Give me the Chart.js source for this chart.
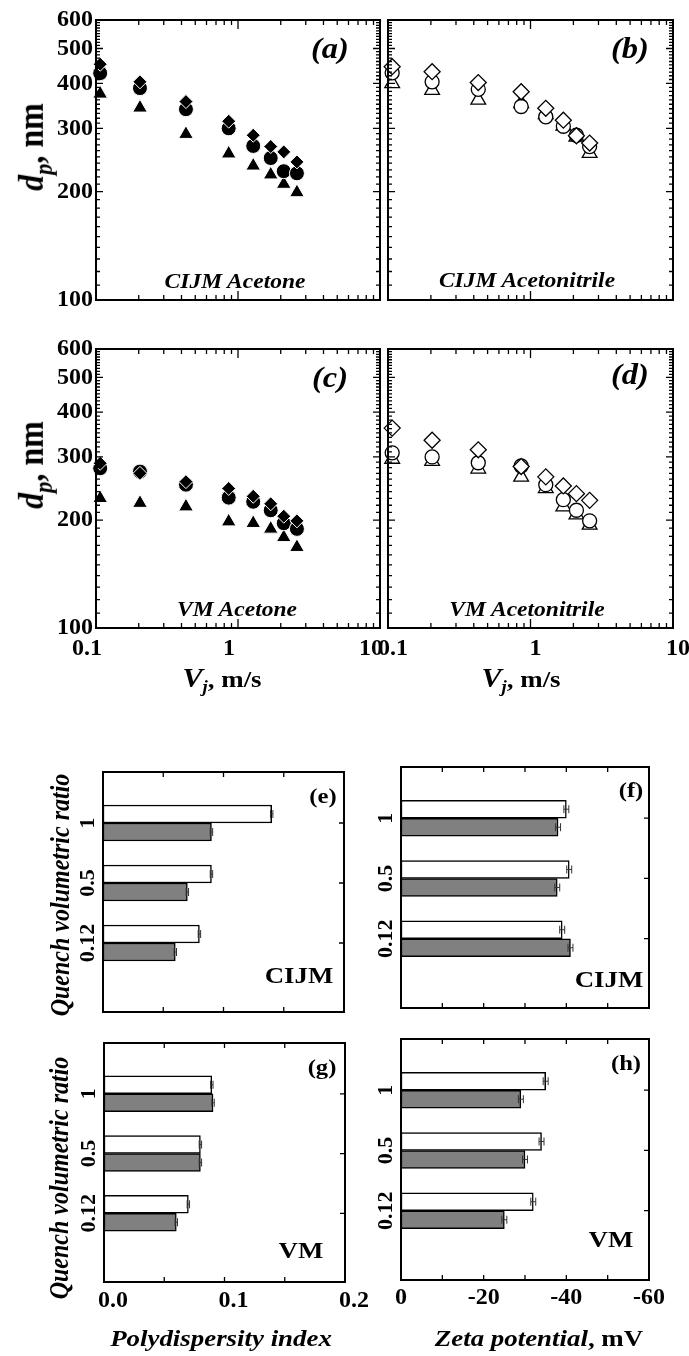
<!DOCTYPE html>
<html>
<head>
<meta charset="utf-8">
<script src="https://cdn.jsdelivr.net/npm/chart.js@4.4.1/dist/chart.umd.min.js"></script>
<style>
  html, body { margin: 0; padding: 0; background: #fff; }
  #fig { position: relative; width: 689px; height: 1356px; overflow: hidden; background: #fff;
         font-family: 'Liberation Serif', 'Times New Roman', serif; font-weight: bold; color: #000; }
  #fig canvas { position: absolute; left: 0; top: 0; }
  .t { position: absolute; white-space: nowrap; line-height: 1; transform: translate(-50%, -50%) scaleX(1.12); }
  .r { transform: translate(-50%, -50%) rotate(-90deg) scaleY(1.12); }
  .t sub { font-size: 0.7em; vertical-align: -0.35em; line-height: 0; }
</style>
</head>
<body>
<div id="fig">
  <canvas id="pa" width="689" height="1356"></canvas>
  <canvas id="pb" width="689" height="1356"></canvas>
  <canvas id="pc" width="689" height="1356"></canvas>
  <canvas id="pd" width="689" height="1356"></canvas>
  <canvas id="pe" width="689" height="1356"></canvas>
  <canvas id="pf" width="689" height="1356"></canvas>
  <canvas id="pg" width="689" height="1356"></canvas>
  <canvas id="ph" width="689" height="1356"></canvas>

  <div class="t" style="left:330px;top:48px;font-size:29px"><i>(a)</i></div>
  <div class="t" style="left:630px;top:48px;font-size:29px"><i>(b)</i></div>
  <div class="t" style="left:330px;top:377px;font-size:29px"><i>(c)</i></div>
  <div class="t" style="left:630px;top:374px;font-size:29px"><i>(d)</i></div>
  <div class="t" style="left:235px;top:281px;font-size:21px"><i>CIJM Acetone</i></div>
  <div class="t" style="left:527px;top:280px;font-size:21px"><i>CIJM Acetonitrile</i></div>
  <div class="t" style="left:237px;top:609px;font-size:21px"><i>VM Acetone</i></div>
  <div class="t" style="left:527px;top:609px;font-size:21px"><i>VM Acetonitrile</i></div>
  <div class="t r" style="left:31px;top:147px;font-size:32px"><i>d</i><sub><i>p</i></sub>, nm</div>
  <div class="t r" style="left:31px;top:465px;font-size:32px"><i>d</i><sub><i>p</i></sub>, nm</div>
  <div class="t" style="left:222px;top:678px;font-size:24px"><i style="font-size:27px">V</i><sub><i>j</i></sub>, m/s</div>
  <div class="t" style="left:521px;top:678px;font-size:24px"><i style="font-size:27px">V</i><sub><i>j</i></sub>, m/s</div>

  <div class="t" style="left:323px;top:796px;font-size:22px">(e)</div>
  <div class="t" style="left:631px;top:790px;font-size:22px">(f)</div>
  <div class="t" style="left:322px;top:1067px;font-size:22px">(g)</div>
  <div class="t" style="left:626px;top:1063px;font-size:22px">(h)</div>
  <div class="t" style="left:299px;top:975px;font-size:24px">CIJM</div>
  <div class="t" style="left:609px;top:979px;font-size:24px">CIJM</div>
  <div class="t" style="left:301px;top:1250px;font-size:24px">VM</div>
  <div class="t" style="left:611px;top:1239px;font-size:24px">VM</div>
  <div class="t r" style="left:60px;top:895px;font-size:24px"><i>Quench volumetric ratio</i></div>
  <div class="t r" style="left:59px;top:1178px;font-size:24px"><i>Quench volumetric ratio</i></div>
  <div class="t" style="left:221px;top:1338px;font-size:24px"><i>Polydispersity index</i></div>
  <div class="t" style="left:539px;top:1338px;font-size:24px"><i>Zeta potential</i>, mV</div>
</div>
<script>
var FONT = "'Liberation Serif', 'Times New Roman', serif";
var W = 689, H = 1356;
var YW = 60, XH = 40;

// jet velocity, m/s
var vj = [0.107, 0.204, 0.43, 0.86, 1.28, 1.7, 2.1, 2.6];

// particle size d_p, nm
var cijmAcetoneDiamond  = [452, 404, 356, 314, 287, 267, 258, 242];
var cijmAcetoneCircle   = [427, 388, 339, 300, 268, 248, 228, 225];
var cijmAcetoneTriangle = [374, 342, 289, 255, 236, 223, 210, 199];

var cijmAcnDiamond  = [445, 431, 402, 379, 341, 316, 286, 273];
var cijmAcnCircle   = [428, 404, 385, 345, 323, 304, 287, 267];
var cijmAcnTriangle = [400, 383, 360, 352, 328, 305, 284, 256];

var vmAcetoneDiamond  = [288, 270, 256, 245, 233, 222, 205, 199];
var vmAcetoneCircle   = [279, 273, 251, 231, 225, 213, 196, 189];
var vmAcetoneTriangle = [230, 223, 218, 198, 196, 189, 179, 168];

var vmAcnDiamond  = [361, 334, 314, 282, 264, 249, 237, 227];
var vmAcnCircle   = [308, 300, 289, 283, 251, 228, 213, 199];
var vmAcnTriangle = [296, 292, 278, 264, 245, 218, 207, 194];

var dpTicks = [100, 200, 300, 400, 500, 600];
var vjTicks = [0.1, 1, 10];
var vjMinor = [0.2, 0.3, 0.4, 0.5, 0.6, 0.7, 0.8, 0.9, 2, 3, 4, 5, 6, 7, 8, 9];
var dpMinor = [];
for (var m = 110; m < 600; m += 10) { if (m % 100) dpMinor.push(m); }

// quench volumetric ratio (bars)
var ratios = ['1', '0.5', '0.12'];
var ratioSlots = [3, 2, 1];

var pdiCijmWhite = [0.140, 0.090, 0.080];
var pdiCijmGray  = [0.090, 0.070, 0.060];
var pdiVmWhite   = [0.0895, 0.080, 0.070];
var pdiVmGray    = [0.0905, 0.080, 0.060];
var pdiErr       = [0.001, 0.001, 0.001];

var zetaCijmWhite = [-40, -40.7, -39];
var zetaCijmGray  = [-38, -37.8, -41];
var zetaVmWhite   = [-35, -34, -32];
var zetaVmGray    = [-29, -30, -25];
var zetaErr       = [0.6, 0.6, 0.6];

var pdiTicks = [0, 0.1, 0.2];
var pdiMinor = [0.05, 0.1, 0.15];
var zetaTicks = [0, -20, -40, -60];
var zetaMinor = [-10, -20, -30, -40, -50];

function layoutFor(rect, showY, showX) {
    return {
        autoPadding: false,
        padding: {
            left: rect[0] - (showY ? YW : 0),
            top: rect[1],
            right: W - rect[2],
            bottom: H - rect[3] - (showX ? XH : 0)
        }
    };
}

// fixed axis box sizes, only for axes that are shown
function fitX(show) {
    return function (s) {
        if (!show) return;
        s.height = XH; s.paddingLeft = 0; s.paddingRight = 0;
    };
}
function fitY(show) {
    return function (s) {
        if (!show) return;
        s.width = YW; s.paddingTop = 0; s.paddingBottom = 0;
    };
}

function frameTicks(cfg) {
    return {
        id: 'frameTicks',
        afterDatasetsDraw: function (chart) {
            var ctx = chart.ctx, a = chart.chartArea;
            var xs = chart.scales.x, ys = chart.scales.y;
            ctx.save();
            // error bars
            chart.data.datasets.forEach(function (ds, di) {
                if (!ds.errors) return;
                var meta = chart.getDatasetMeta(di);
                ctx.strokeStyle = '#333';
                ctx.lineWidth = 1;
                meta.data.forEach(function (bar, i) {
                    var v = ds.data[i].x, e = ds.errors[i];
                    var x1 = xs.getPixelForValue(v - e), x2 = xs.getPixelForValue(v + e);
                    ctx.beginPath();
                    ctx.moveTo(x1, bar.y); ctx.lineTo(x2, bar.y);
                    ctx.moveTo(x1, bar.y - 4); ctx.lineTo(x1, bar.y + 4);
                    ctx.moveTo(x2, bar.y - 4); ctx.lineTo(x2, bar.y + 4);
                    ctx.stroke();
                });
            });
            ctx.strokeStyle = '#000';
            ctx.lineWidth = 1.3;
            ctx.beginPath();
            function xt(list, len) {
                list.forEach(function (v) {
                    var p = xs.getPixelForValue(v);
                    ctx.moveTo(p, a.top); ctx.lineTo(p, a.top + len);
                    ctx.moveTo(p, a.bottom); ctx.lineTo(p, a.bottom - len);
                });
            }
            function yt(list, len, bothSides) {
                list.forEach(function (v) {
                    var p = ys.getPixelForValue(v);
                    if (bothSides) { ctx.moveTo(a.left, p); ctx.lineTo(a.left + len, p); }
                    ctx.moveTo(a.right, p); ctx.lineTo(a.right - len, p);
                });
            }
            xt(cfg.xMajor, cfg.xMajorLen);
            xt(cfg.xMinor, cfg.xMinorLen);
            yt(cfg.yMajor, cfg.yMajorLen, cfg.bothY);
            yt(cfg.yMinor, cfg.yMinorLen, cfg.bothY);
            ctx.stroke();
            ctx.lineWidth = 2;
            ctx.strokeRect(a.left, a.top, a.right - a.left, a.bottom - a.top);
            if (cfg.catLabels) {
                ctx.fillStyle = '#000';
                ctx.font = 'bold 22px ' + FONT;
                ctx.textAlign = 'center';
                ctx.textBaseline = 'middle';
                cfg.catLabels.forEach(function (lab, i) {
                    var py = ys.getPixelForValue(cfg.catSlots[i]);
                    ctx.save();
                    ctx.translate(a.left - cfg.catGap, py);
                    ctx.rotate(-Math.PI / 2);
                    ctx.fillText(lab, 0, 0);
                    ctx.restore();
                });
            }
            ctx.restore();
        }
    };
}

var tickFont = { family: FONT, size: 24, weight: 'bold' };

function scatterPanel(id, rect, diamond, circle, triangle, filled, showY, showX, xLabelOffset) {
    var fill = filled ? '#000' : '#fff';
    var edge = filled ? '#fff' : '#000';
    var bw = filled ? 1 : 1.3;
    function pts(arr) {
        return vj.map(function (v, i) { return { x: v, y: arr[i] }; });
    }
    function ds(arr, style, r) {
        return {
            data: pts(arr), pointStyle: style, pointRadius: r,
            pointBackgroundColor: fill, pointBorderColor: edge, pointBorderWidth: bw,
            showLine: false, clip: false
        };
    }
    new Chart(document.getElementById(id), {
        type: 'scatter',
        data: {
            datasets: [
                ds(diamond, 'rectRot', filled ? 7 : 8),
                ds(circle, 'circle', filled ? 7.5 : 7),
                ds(triangle, 'triangle', 8.5)
            ]
        },
        options: {
            responsive: false, animation: false, events: [], devicePixelRatio: 1,
            layout: layoutFor(rect, showY, showX),
            plugins: { legend: { display: false }, tooltip: { enabled: false } },
            scales: {
                x: {
                    type: 'logarithmic', min: 0.1, max: 10, display: showX,
                    grid: { display: false, drawTicks: false }, border: { display: false },
                    afterBuildTicks: function (s) { s.ticks = vjTicks.map(function (v) { return { value: v }; }); },
                    afterFit: fitX(showX),
                    ticks: {
                        font: tickFont, color: '#000', padding: 6, labelOffset: xLabelOffset,
                        maxRotation: 0, minRotation: 0, autoSkip: false,
                        callback: function (v) { return String(v); }
                    }
                },
                y: {
                    type: 'logarithmic', min: 100, max: 600, display: showY,
                    grid: { display: false, drawTicks: false }, border: { display: false },
                    afterBuildTicks: function (s) { s.ticks = dpTicks.map(function (v) { return { value: v }; }); },
                    afterFit: fitY(showY),
                    ticks: {
                        font: tickFont, color: '#000', padding: 3, autoSkip: false,
                        callback: function (v) { return String(v); }
                    }
                }
            }
        },
        plugins: [frameTicks({
            xMajor: vjTicks, xMajorLen: 9, xMinor: vjMinor, xMinorLen: 5,
            yMajor: dpTicks, yMajorLen: 7, yMinor: dpMinor, yMinorLen: 4, bothY: true
        })]
    });
}

function barPanel(id, rect, white, gray, whiteErr, grayErr, axis, showX, xLabelOffset, xPad) {
    function pairs(arr) {
        return ratioSlots.map(function (s, i) { return { x: arr[i], y: s }; });
    }
    new Chart(document.getElementById(id), {
        type: 'bar',
        data: {
            datasets: [
                { data: pairs(white), backgroundColor: '#ffffff', borderColor: '#000', borderWidth: 1.5,
                  borderSkipped: false, barThickness: 18, errors: whiteErr },
                { data: pairs(gray), backgroundColor: '#808080', borderColor: '#000', borderWidth: 1.5,
                  borderSkipped: false, barThickness: 18, errors: grayErr }
            ]
        },
        options: {
            indexAxis: 'y',
            responsive: false, animation: false, events: [], devicePixelRatio: 1,
            layout: layoutFor(rect, false, showX),
            plugins: { legend: { display: false }, tooltip: { enabled: false } },
            scales: {
                x: {
                    type: 'linear', min: axis.min, max: axis.max, reverse: axis.reverse, display: showX,
                    grid: { display: false, drawTicks: false }, border: { display: false },
                    afterBuildTicks: function (s) { s.ticks = axis.labels.map(function (v) { return { value: v }; }); },
                    afterFit: fitX(showX),
                    ticks: {
                        font: tickFont, color: '#000', padding: xPad, labelOffset: xLabelOffset,
                        maxRotation: 0, minRotation: 0, autoSkip: false, callback: axis.fmt
                    }
                },
                y: { type: 'linear', min: -0.15, max: 3.85, offset: false, display: false,
                     grid: { offset: false } }
            }
        },
        plugins: [frameTicks({
            xMajor: axis.minor, xMajorLen: 5, xMinor: [], xMinorLen: 0,
            yMajor: ratioSlots, yMajorLen: 5, yMinor: [], yMinorLen: 0, bothY: false,
            catLabels: ratios, catSlots: ratioSlots, catGap: 15
        })]
    });
}

var pdiAxis = { min: 0, max: 0.2, reverse: false, labels: pdiTicks, minor: pdiMinor,
                fmt: function (v) { return Number(v).toFixed(1); } };
var zetaAxis = { min: -60, max: 0, reverse: true, labels: zetaTicks, minor: zetaMinor,
                 fmt: function (v) { return String(v); } };

scatterPanel('pa', [96, 20, 380, 300], cijmAcetoneDiamond, cijmAcetoneCircle, cijmAcetoneTriangle, true, true, false, 0);
scatterPanel('pb', [388, 20, 673, 300], cijmAcnDiamond, cijmAcnCircle, cijmAcnTriangle, false, false, false, 0);
scatterPanel('pc', [96, 349, 380, 628], vmAcetoneDiamond, vmAcetoneCircle, vmAcetoneTriangle, true, true, true, -9);
scatterPanel('pd', [388, 349, 673, 628], vmAcnDiamond, vmAcnCircle, vmAcnTriangle, false, false, true, 5);

barPanel('pe', [103, 772, 344, 1012], pdiCijmWhite, pdiCijmGray, pdiErr, pdiErr, pdiAxis, false, 0, 4);
barPanel('pf', [401, 767, 649, 1008], zetaCijmWhite, zetaCijmGray, zetaErr, zetaErr, zetaAxis, false, 0, 4);
barPanel('pg', [104, 1043, 345, 1282], pdiVmWhite, pdiVmGray, pdiErr, pdiErr, pdiAxis, true, 9, 4);
barPanel('ph', [401, 1039, 649, 1280], zetaVmWhite, zetaVmGray, zetaErr, zetaErr, zetaAxis, true, 0, 3);
</script>
</body>
</html>
